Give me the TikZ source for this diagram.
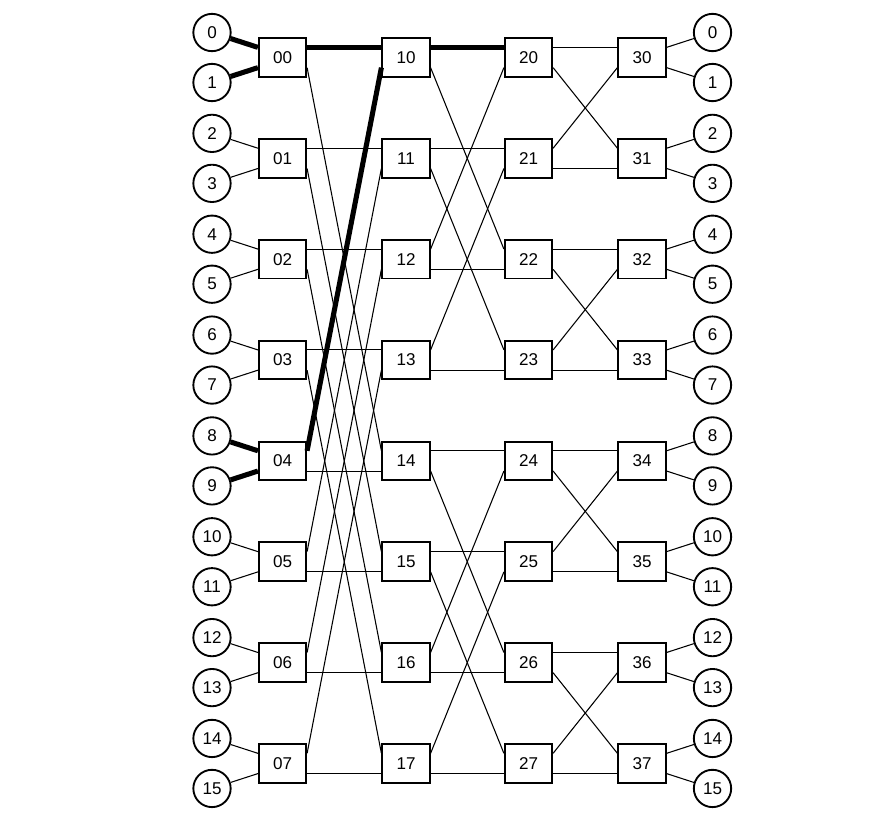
\documentclass[tikz,border=0pt]{standalone}
\usepackage{fontspec}
\setmainfont{Liberation Sans}
\usetikzlibrary{calc}
\begin{document}
\begin{tikzpicture}[x=0.75pt,y=-0.75pt,
  sw/.style={draw, line width=1.4pt, fill=white, minimum width=35.5pt, minimum height=29pt, inner sep=0pt, font=\fontsize{12.8}{14}\selectfont},
  term/.style={draw, circle, line width=1.4pt, fill=white, minimum size=28pt, inner sep=0pt, font=\fontsize{12.8}{14}\selectfont},
  wire/.style={line width=0.8pt},
  hot/.style={line width=3.8pt}]
\useasboundingbox (0,0) rectangle (874,818);
% switch boxes
\foreach \c/\x in {0/282.5,1/406,2/528.5,3/642}{
  \foreach \k in {0,...,7}{
    \node[sw] (b\c\k) at (\x,{57.5+100.85*\k}) {\c\k};
    \coordinate (b\c\k-ru) at ($(b\c\k.north east)!0.25!(b\c\k.south east)$);
    \coordinate (b\c\k-rd) at ($(b\c\k.north east)!0.75!(b\c\k.south east)$);
    \coordinate (b\c\k-lu) at ($(b\c\k.north west)!0.25!(b\c\k.south west)$);
    \coordinate (b\c\k-ld) at ($(b\c\k.north west)!0.75!(b\c\k.south west)$);
  }
}
% terminals
\foreach \i in {0,...,15}{
  \pgfmathsetmacro{\yy}{57.5+100.85*int(\i/2)+50*mod(\i,2)-25}
  \node[term] (l\i) at (212,\yy) {\i};
  \node[term] (r\i) at (712.5,\yy) {\i};
}
% terminal links
\foreach \k [evaluate=\k as \a using int(2*\k), evaluate=\k as \b using int(2*\k+1)] in {0,...,7}{
  \draw[wire] (l\a) -- (b0\k-lu);
  \draw[wire] (l\b) -- (b0\k-ld);
  \draw[wire] (b3\k-ru) -- (r\a);
  \draw[wire] (b3\k-rd) -- (r\b);
}
% inter-stage links
\foreach \s/\t/\p/\q in {0/1/0/4,0/1/1/5,0/1/2/6,0/1/3/7,
                         1/2/0/2,1/2/1/3,1/2/4/6,1/2/5/7,
                         2/3/0/1,2/3/2/3,2/3/4/5,2/3/6/7}{
  \draw[wire] (b\s\p-ru) -- (b\t\p-lu);
  \draw[wire] (b\s\p-rd) -- (b\t\q-lu);
  \draw[wire] (b\s\q-ru) -- (b\t\p-ld);
  \draw[wire] (b\s\q-rd) -- (b\t\q-ld);
}
% highlighted paths
\draw[hot] (l0) -- (b00-lu);
\draw[hot] (l1) -- (b00-ld);
\draw[hot] (l8) -- (b04-lu);
\draw[hot] (l9) -- (b04-ld);
\draw[hot] (b00-ru) -- (b10-lu);
\draw[hot] (b04-ru) -- (b10-ld);
\draw[hot] (b10-ru) -- (b20-lu);
\end{tikzpicture}
\end{document}
